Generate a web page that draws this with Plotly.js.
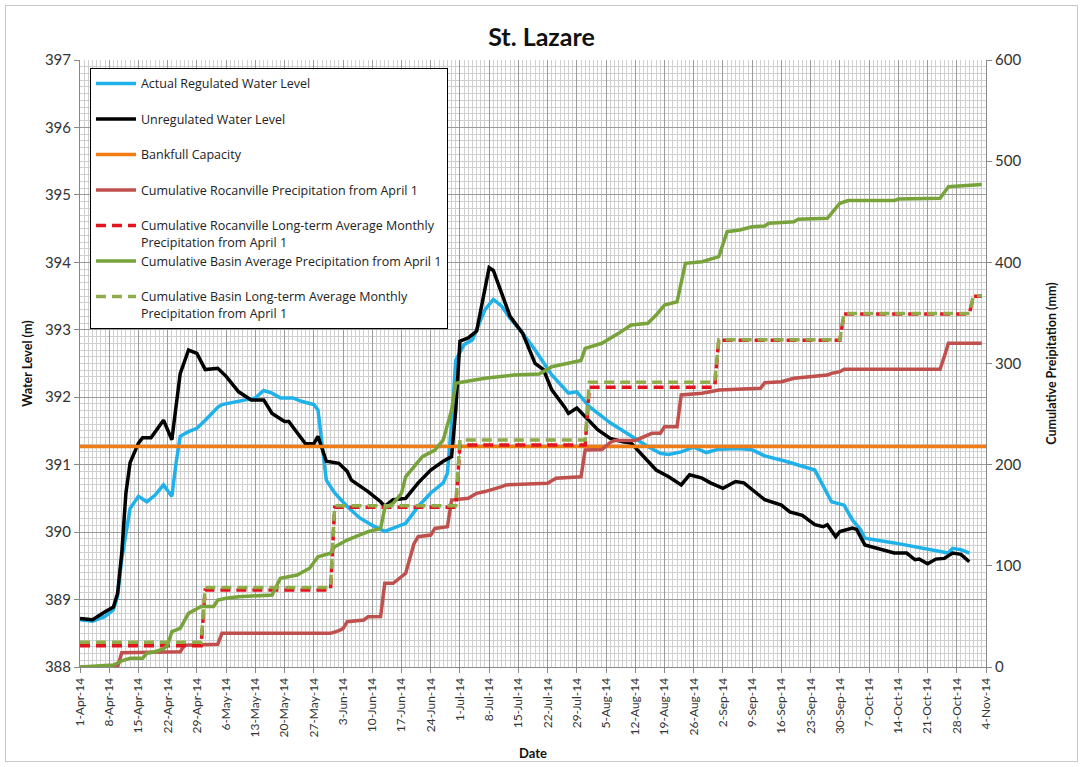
<!DOCTYPE html>
<html>
<head>
<meta charset="utf-8">
<script src="https://cdn.plot.ly/plotly-3.0.1.min.js"></script>
<style>
  html, body { margin: 0; padding: 0; background: #fff; }
  #chart { width: 1083px; height: 767px; position: absolute; left: 0; top: 0; }
  #frame { position: absolute; left: 5px; top: 5px; width: 1071px; height: 755px; border: 1px solid #c8c8c8; pointer-events: none; z-index: 5; }
</style>
</head>
<body>
<div id="chart"></div>
<div id="frame"></div>
<script>
// ---- Unregulated water level (m) ----
const unregDates = ['2014-04-01','2014-04-04','2014-04-07','2014-04-09','2014-04-10','2014-04-11','2014-04-12','2014-04-13','2014-04-15','2014-04-16','2014-04-18','2014-04-19','2014-04-21','2014-04-23','2014-04-24','2014-04-25','2014-04-27','2014-04-29','2014-05-01','2014-05-04','2014-05-06','2014-05-09','2014-05-12','2014-05-15','2014-05-17','2014-05-20','2014-05-21','2014-05-24','2014-05-25','2014-05-27','2014-05-28','2014-05-30','2014-06-02','2014-06-04','2014-06-05','2014-06-09','2014-06-12','2014-06-13','2014-06-15','2014-06-18','2014-06-21','2014-06-24','2014-06-27','2014-06-29','2014-06-30','2014-07-01','2014-07-03','2014-07-05','2014-07-07','2014-07-08','2014-07-09','2014-07-11','2014-07-13','2014-07-16','2014-07-19','2014-07-21','2014-07-23','2014-07-26','2014-07-27','2014-07-29','2014-07-31','2014-08-03','2014-08-06','2014-08-09','2014-08-11','2014-08-14','2014-08-17','2014-08-20','2014-08-23','2014-08-25','2014-08-28','2014-08-30','2014-09-02','2014-09-05','2014-09-07','2014-09-10','2014-09-12','2014-09-16','2014-09-18','2014-09-21','2014-09-24','2014-09-26','2014-09-27','2014-09-29','2014-09-30','2014-10-03','2014-10-04','2014-10-06','2014-10-10','2014-10-13','2014-10-16','2014-10-18','2014-10-19','2014-10-21','2014-10-23','2014-10-25','2014-10-27','2014-10-29','2014-10-31'];
const unregLevel = [388.72,388.70,388.82,388.89,389.09,389.69,390.58,391.03,391.32,391.40,391.40,391.49,391.66,391.37,391.90,392.35,392.70,392.65,392.41,392.43,392.31,392.08,391.96,391.96,391.76,391.64,391.64,391.39,391.31,391.31,391.42,391.05,391.02,390.90,390.77,390.60,390.45,390.38,390.48,390.50,390.73,390.92,391.05,391.12,391.81,392.83,392.88,392.98,393.59,393.92,393.88,393.54,393.20,392.95,392.50,392.41,392.11,391.86,391.76,391.84,391.71,391.52,391.39,391.34,391.32,391.12,390.92,390.82,390.70,390.85,390.80,390.73,390.65,390.75,390.73,390.58,390.48,390.40,390.30,390.25,390.11,390.08,390.11,389.93,390.01,390.06,390.04,389.81,389.74,389.69,389.69,389.59,389.60,389.53,389.60,389.61,389.69,389.67,389.56];

// ---- Actual regulated water level (m) ----
const regDates = ['2014-04-01','2014-04-04','2014-04-07','2014-04-09','2014-04-10','2014-04-11','2014-04-13','2014-04-15','2014-04-17','2014-04-19','2014-04-21','2014-04-23','2014-04-24','2014-04-25','2014-04-27','2014-04-29','2014-05-01','2014-05-04','2014-05-05','2014-05-11','2014-05-13','2014-05-15','2014-05-17','2014-05-19','2014-05-22','2014-05-24','2014-05-27','2014-05-28','2014-05-29','2014-05-30','2014-06-01','2014-06-04','2014-06-07','2014-06-10','2014-06-13','2014-06-16','2014-06-18','2014-06-21','2014-06-24','2014-06-27','2014-06-28','2014-06-29','2014-06-30','2014-07-02','2014-07-04','2014-07-07','2014-07-09','2014-07-11','2014-07-13','2014-07-16','2014-07-19','2014-07-23','2014-07-27','2014-07-29','2014-08-01','2014-08-06','2014-08-11','2014-08-15','2014-08-18','2014-08-20','2014-08-23','2014-08-26','2014-08-29','2014-09-01','2014-09-06','2014-09-09','2014-09-12','2014-09-17','2014-09-24','2014-09-26','2014-09-28','2014-10-01','2014-10-03','2014-10-05','2014-10-06','2014-10-13','2014-10-21','2014-10-26','2014-10-27','2014-10-29','2014-10-31'];
const regLevel = [388.70,388.68,388.75,388.85,389.05,389.60,390.35,390.53,390.45,390.55,390.70,390.53,391.02,391.42,391.49,391.54,391.66,391.85,391.89,391.96,391.99,392.10,392.06,391.99,391.99,391.94,391.89,391.81,391.32,390.77,390.58,390.38,390.21,390.10,390.01,390.08,390.13,390.38,390.58,390.73,390.87,391.62,392.55,392.78,392.85,393.30,393.45,393.35,393.17,392.95,392.70,392.33,392.06,392.08,391.86,391.62,391.42,391.27,391.17,391.15,391.19,391.26,391.18,391.23,391.24,391.22,391.13,391.05,390.92,390.68,390.45,390.40,390.18,390.03,389.91,389.84,389.74,389.69,389.76,389.74,389.69];

// ---- Bankfull capacity (m) ----
const bankfullDates = ['2014-04-01','2014-11-04'];
const bankfullLevel = [391.27, 391.27];

// ---- Cumulative Rocanville precipitation (mm) ----
const rocDates = ['2014-04-01','2014-04-10','2014-04-11','2014-04-25','2014-04-26','2014-05-04','2014-05-05','2014-05-31','2014-06-02','2014-06-03','2014-06-04','2014-06-08','2014-06-09','2014-06-12','2014-06-13','2014-06-15','2014-06-18','2014-06-20','2014-06-21','2014-06-24','2014-06-25','2014-06-28','2014-06-29','2014-07-03','2014-07-05','2014-07-07','2014-07-11','2014-07-12','2014-07-22','2014-07-24','2014-07-30','2014-07-31','2014-08-04','2014-08-06','2014-08-07','2014-08-12','2014-08-16','2014-08-18','2014-08-19','2014-08-22','2014-08-23','2014-08-28','2014-09-01','2014-09-11','2014-09-12','2014-09-16','2014-09-19','2014-09-27','2014-09-28','2014-09-30','2014-10-01','2014-10-24','2014-10-25','2014-10-26','2014-11-03'];
const rocPrecip = [0,0,14,15,21.5,22.5,33.3,33.3,36,38,44.8,46.5,49.7,50,82.7,82.7,92.6,122,128.8,130.4,137,138.7,165,166.8,171.7,173.4,178.2,180,181.6,186.5,188,214.5,215,222,224,224,231,231,237.5,237.5,268.9,270.5,273.8,275.5,281,282,285.4,288.6,290.3,291.9,294.3,294.3,306.7,320,320];

// ---- Cumulative basin average precipitation (mm) ----
const basinDates = ['2014-04-01','2014-04-04','2014-04-09','2014-04-10','2014-04-11','2014-04-13','2014-04-16','2014-04-17','2014-04-19','2014-04-21','2014-04-22','2014-04-23','2014-04-25','2014-04-27','2014-04-29','2014-04-30','2014-05-03','2014-05-04','2014-05-06','2014-05-09','2014-05-17','2014-05-19','2014-05-23','2014-05-26','2014-05-28','2014-05-31','2014-06-01','2014-06-04','2014-06-06','2014-06-09','2014-06-12','2014-06-13','2014-06-15','2014-06-17','2014-06-18','2014-06-20','2014-06-22','2014-06-25','2014-06-27','2014-06-29','2014-06-30','2014-07-02','2014-07-07','2014-07-14','2014-07-20','2014-07-23','2014-07-27','2014-07-30','2014-07-31','2014-08-04','2014-08-08','2014-08-11','2014-08-15','2014-08-17','2014-08-19','2014-08-22','2014-08-24','2014-08-28','2014-09-01','2014-09-03','2014-09-06','2014-09-09','2014-09-12','2014-09-13','2014-09-19','2014-09-20','2014-09-27','2014-09-28','2014-09-30','2014-10-02','2014-10-13','2014-10-14','2014-10-24','2014-10-26','2014-11-03'];
const basinPrecip = [0,1,2,4,6,8.6,8.6,13.5,15.1,18,21.7,34.9,38.2,53,58,59.8,59.8,66.2,67.9,69.5,71.2,87.7,90.9,97.6,109,112.4,118.9,125.5,128.8,133.7,137,156.9,161.8,171.7,188,198,207.9,214.5,224.4,254,280.4,282,285.4,288.6,289.6,296.8,300.2,303,315,320,329.8,338,339.8,347.9,357.8,361,399,400.6,405.6,430.3,432,435.2,435.9,438.6,440.2,442.5,443.5,448.5,458.4,461,461,462.5,463.3,474.8,477];

// ---- Long-term average monthly cumulative precipitation (mm) ----
const monthStarts = ['2014-04-01','2014-05-01','2014-06-01','2014-07-01','2014-08-01','2014-09-01','2014-10-01','2014-11-01'];
const monthEnds   = ['2014-04-30','2014-05-31','2014-06-30','2014-07-31','2014-08-31','2014-09-30','2014-10-31','2014-11-03'];
const rocLongTerm   = [21, 76, 158, 219.5, 276.5, 323, 349, 366.5];
const basinLongTerm = [24.5, 78.5, 159.5, 224.5, 281.5, 323.5, 349.5, 367];

function monthlySteps(vals) {
  const x = [], y = [];
  for (let i = 0; i < vals.length; i++) {
    x.push(monthStarts[i], monthEnds[i]);
    y.push(vals[i], vals[i]);
  }
  return {x, y};
}
const rocLT = monthlySteps(rocLongTerm);
const basinLT = monthlySteps(basinLongTerm);

const FONT = 'Lato, "Open Sans", sans-serif';

const traces = [
  {name: 'Actual Regulated Water Level<br> ', x: regDates, y: regLevel, type: 'scatter', mode: 'lines',
   line: {color: '#1fb2ea', width: 3.5}, yaxis: 'y'},
  {name: 'Unregulated Water Level<br> ', x: unregDates, y: unregLevel, type: 'scatter', mode: 'lines',
   line: {color: '#000000', width: 3.5}, yaxis: 'y'},
  {name: 'Bankfull Capacity<br> ', x: bankfullDates, y: bankfullLevel, type: 'scatter', mode: 'lines',
   line: {color: '#f07d14', width: 3.5}, yaxis: 'y'},
  {name: 'Cumulative Rocanville Precipitation from April 1<br> ', x: rocDates, y: rocPrecip, type: 'scatter', mode: 'lines',
   line: {color: '#c0504d', width: 3.5}, yaxis: 'y2'},
  {name: 'Cumulative Rocanville Long-term Average Monthly<br>Precipitation from April 1', x: rocLT.x, y: rocLT.y, type: 'scatter', mode: 'lines',
   line: {color: '#e3151c', width: 3.5, dash: '10px,6px'}, yaxis: 'y2'},
  {name: 'Cumulative Basin Average Precipitation from April 1<br> ', x: basinDates, y: basinPrecip, type: 'scatter', mode: 'lines',
   line: {color: '#77a33a', width: 3.5}, yaxis: 'y2'},
  {name: 'Cumulative Basin Long-term Average Monthly<br>Precipitation from April 1', x: basinLT.x, y: basinLT.y, type: 'scatter', mode: 'lines',
   line: {color: '#8fac4a', width: 3.5, dash: '10px,6px'}, yaxis: 'y2'}
];

const layout = {
  width: 1083, height: 767,
  margin: {l: 80, r: 97, t: 60, b: 100},
  paper_bgcolor: '#ffffff', plot_bgcolor: '#ffffff',
  font: {family: FONT, color: '#333333'},
  title: {text: '<b>St. Lazare</b>', font: {size: 25, color: '#111111', family: FONT},
          x: 0.5, xref: 'container', y: 0.952, yref: 'container', yanchor: 'middle'},
  showlegend: true,
  legend: {x: 0.011, y: 0.987, xanchor: 'left', yanchor: 'top', bgcolor: '#ffffff',
           bordercolor: '#000000', borderwidth: 1, font: {size: 12.5, color: '#222222', family: '"Open Sans", Lato, sans-serif'},
           valign: 'top', itemwidth: 40, traceorder: 'normal', tracegroupgap: 0},
  xaxis: {type: 'date', range: ['2014-04-01', '2014-11-04'], tick0: '2014-04-01', dtick: 7 * 86400000,
          tickformat: '%-d-%b-%y', tickangle: -90, tickfont: {size: 12, color: '#333333'},
          ticks: 'outside', ticklen: 5, tickcolor: '#888888',
          showgrid: true, gridcolor: '#9a9a9a', gridwidth: 1,
          minor: {dtick: 86400000, showgrid: true, gridcolor: '#cfcfcf', gridwidth: 1},
          showline: true, linecolor: '#888888', linewidth: 1, zeroline: false,
          title: {text: '<b>Date</b>', font: {size: 13, color: '#111111'}, standoff: 12}},
  yaxis: {range: [388, 397], dtick: 1, tickfont: {size: 15, color: '#333333'},
          ticks: 'outside', ticklen: 5, tickcolor: '#888888',
          showgrid: true, gridcolor: '#9a9a9a', gridwidth: 1,
          minor: {dtick: 0.1, showgrid: true, gridcolor: '#cfcfcf', gridwidth: 1},
          showline: true, linecolor: '#888888', linewidth: 1, zeroline: false,
          title: {text: '<b>Water Level (m)</b>', font: {size: 12.5, color: '#111111'}, standoff: 9}},
  yaxis2: {range: [0, 600], dtick: 100, overlaying: 'y', side: 'right', tickfont: {size: 15, color: '#333333'},
           ticks: 'outside', ticklen: 5, tickcolor: '#888888', showgrid: false,
           showline: true, linecolor: '#888888', linewidth: 1, zeroline: false,
           title: {text: '<b>Cumulative Preipitation (mm)</b>', font: {size: 12.5, color: '#111111'}, standoff: 26}}
};

Plotly.newPlot('chart', traces, layout, {staticPlot: true, displayModeBar: false});
</script>
</body>
</html>
